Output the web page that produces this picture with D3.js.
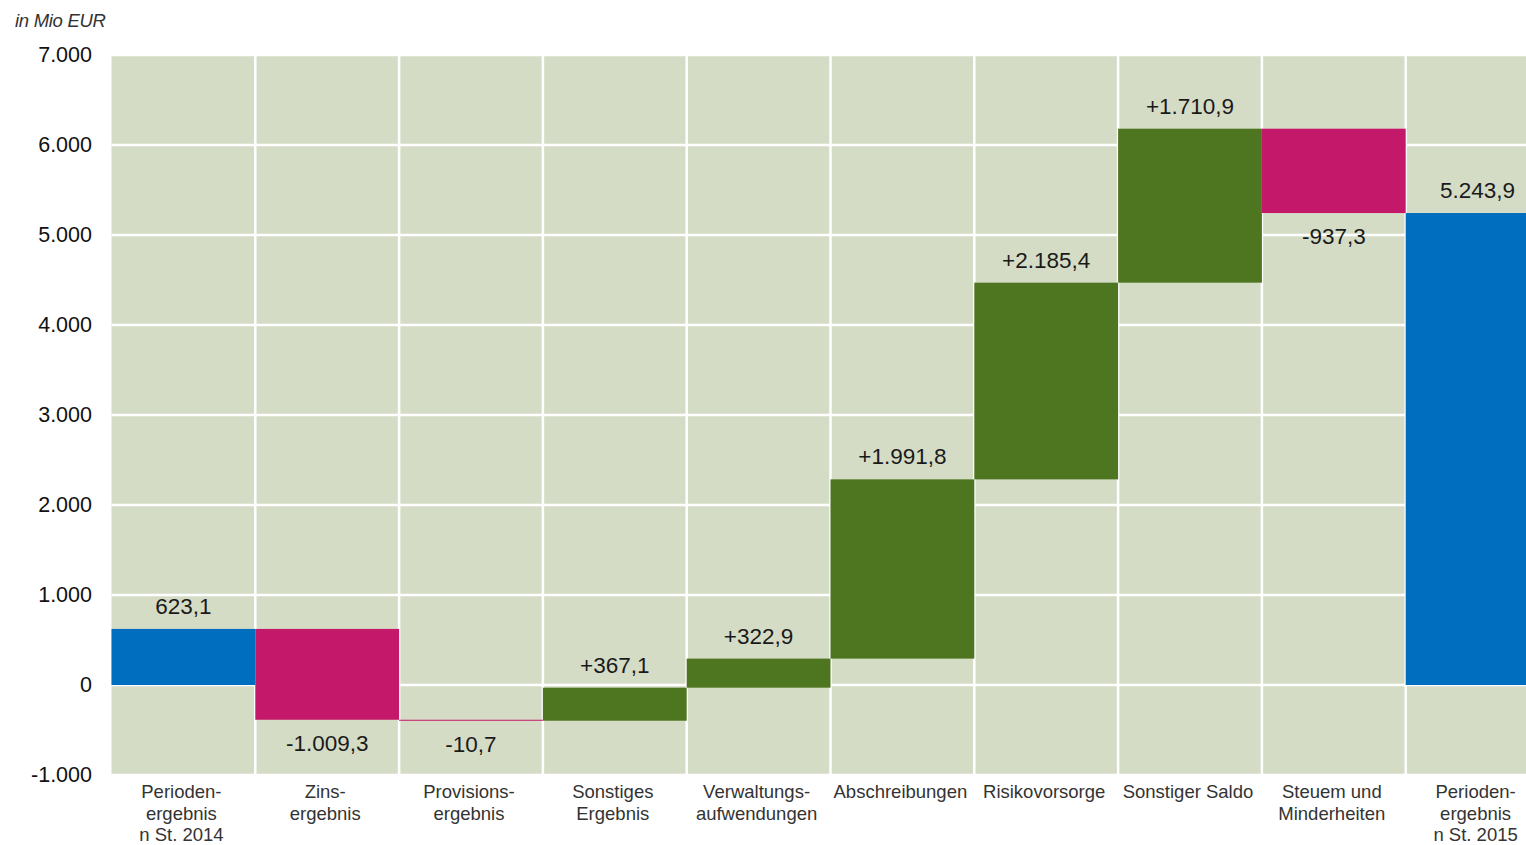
<!DOCTYPE html>
<html>
<head>
<meta charset="utf-8">
<script src="https://cdn.jsdelivr.net/npm/d3@7"></script>
<style>
  html, body { margin: 0; padding: 0; background: #fff; overflow: hidden; }
  svg { display: block; font-family: "Liberation Sans", Arial, sans-serif; }
</style>
</head>
<body>
<script>
// categories (line breaks as in the original)
const categories = [
  ["Perioden-", "ergebnis", "n St. 2014"],
  ["Zins-", "ergebnis"],
  ["Provisions-", "ergebnis"],
  ["Sonstiges", "Ergebnis"],
  ["Verwaltungs-", "aufwendungen"],
  ["Abschreibungen"],
  ["Risikovorsorge"],
  ["Sonstiger Saldo"],
  ["Steuem und", "Minderheiten"],
  ["Perioden-", "ergebnis", "n St. 2015"]
];
// start value, deltas, end value
const startValue = 623.1;
const deltas = [-1009.3, -10.7, 367.1, 322.9, 1991.8, 2185.4, 1710.9, -937.3];
const endValue = 5243.9;
const yTicks = [-1000, 0, 1000, 2000, 3000, 4000, 5000, 6000, 7000];

const width = 1526, height = 845;
const plotLeft = 111.5, plotRight = 1549.5;

const de = d3.formatLocale({decimal: ",", thousands: ".", grouping: [3], currency: ["", " €"], minus: "-"});
const fmtTick = de.format(",.0f");
const fmtVal = de.format(",.1f");
const fmtDelta = de.format("+,.1f");

// build waterfall rows
let rows = [];
let run = startValue;
rows.push({i: 0, y0: 0, y1: startValue, kind: "total", label: fmtVal(startValue)});
deltas.forEach(function(d, k) {
  rows.push({i: k + 1, y0: run, y1: run + d, kind: d < 0 ? "neg" : "pos", label: d < 0 ? fmtVal(d) : fmtDelta(d)});
  run += d;
});
rows.push({i: 9, y0: 0, y1: endValue, kind: "total", label: fmtVal(endValue)});

const colors = {total: "#006ebf", neg: "#c4186a", pos: "#4e7520"};

const x = d3.scaleBand()
  .domain(d3.range(categories.length))
  .range([plotLeft, plotRight])
  .padding(0);

const y = d3.scaleLinear()
  .domain([-1000, 7000])
  .range([775, 55]);

const svg = d3.select("body").append("svg")
  .attr("width", width)
  .attr("height", height);

// plot background
svg.append("rect")
  .attr("x", plotLeft)
  .attr("y", y(7000))
  .attr("width", plotRight - plotLeft)
  .attr("height", y(-1000) - y(7000))
  .attr("fill", "#d5dcc6");

// horizontal grid
svg.append("g")
  .selectAll("line")
  .data(yTicks)
  .join("line")
    .attr("x1", plotLeft)
    .attr("x2", plotRight)
    .attr("y1", d => y(d))
    .attr("y2", d => y(d))
    .attr("stroke", "#fff")
    .attr("stroke-width", 2.5);

// vertical grid between categories
svg.append("g")
  .selectAll("line")
  .data(d3.range(1, categories.length))
  .join("line")
    .attr("x1", d => x(d))
    .attr("x2", d => x(d))
    .attr("y1", y(7000))
    .attr("y2", y(-1000))
    .attr("stroke", "#fff")
    .attr("stroke-width", 2.5);

// bars
svg.append("g")
  .selectAll("rect")
  .data(rows)
  .join("rect")
    .attr("x", d => x(d.i))
    .attr("width", x.bandwidth())
    .attr("y", d => y(Math.max(d.y0, d.y1)))
    .attr("height", d => Math.max(1, Math.abs(y(d.y0) - y(d.y1))))
    .attr("fill", d => colors[d.kind]);

// value labels
svg.append("g")
  .selectAll("text")
  .data(rows)
  .join("text")
    .attr("x", d => x(d.i) + x.bandwidth() / 2)
    .attr("y", d => d.kind === "neg" ? y(Math.min(d.y0, d.y1)) + 31 : y(Math.max(d.y0, d.y1)) - 15)
    .attr("text-anchor", "middle")
    .attr("font-size", 22.5)
    .attr("fill", "#1a1a1a")
    .text(d => d.label);

// y axis ticks
const yAxis = d3.axisLeft(y).tickValues(yTicks).tickFormat(fmtTick).tickSize(0).tickPadding(0);
const gy = svg.append("g")
  .attr("transform", "translate(92,0)")
  .call(yAxis);
gy.select(".domain").remove();
gy.selectAll("text")
  .attr("font-size", 21.5)
  .attr("font-family", "'Liberation Sans', Arial, sans-serif")
  .attr("fill", "#111");

// unit label
svg.append("text")
  .attr("x", 15)
  .attr("y", 27)
  .attr("font-size", 18.5)
  .attr("font-style", "italic")
  .attr("fill", "#333")
  .attr("letter-spacing", -0.3)
  .text("in Mio EUR");

// category labels
const cat = svg.append("g")
  .selectAll("text")
  .data(categories)
  .join("text")
    .attr("x", (d, i) => x(i) + x.bandwidth() / 2 - 2)
    .attr("y", 798)
    .attr("text-anchor", "middle")
    .attr("font-size", 18.5)
    .attr("fill", "#333");
cat.selectAll("tspan")
  .data(d => d)
  .join("tspan")
    .attr("x", function() { return d3.select(this.parentNode).attr("x"); })
    .attr("dy", (d, j) => j === 0 ? 0 : 21.5)
    .text(d => d);
</script>
</body>
</html>
